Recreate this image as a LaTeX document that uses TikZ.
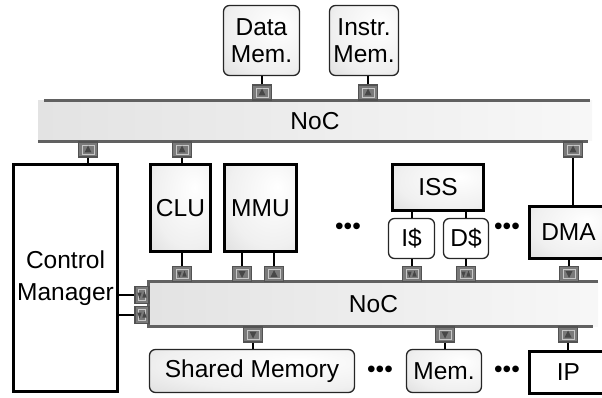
\documentclass[tikz,border=0pt]{standalone}
\usepackage{fontspec}
\setmainfont{Liberation Sans}
\pgfdeclareradialshading{softgray}{\pgfpoint{12bp}{12bp}}{color(0bp)=(white); color(30bp)=(black!6); color(60bp)=(black!20); color(80bp)=(black!30)}
\begin{document}
\begin{tikzpicture}[x=1pt,y=-1pt,
  every node/.style={font=\fontsize{24.5}{27}\selectfont, inner sep=0pt, align=center},
  thickbox/.style={draw=black, line width=3pt, fill=white},
  shbox/.style={draw=black, line width=3pt, shading=softgray},
  rbox/.style={draw=black!85, line width=1.3pt, rounded corners=6pt, shading=softgray},
  wrbox/.style={draw=black!85, line width=1.3pt, rounded corners=6pt, fill=white},
  nocbar/.style={left color=black!11, right color=black!3},
  nocline/.style={draw=black!62, line width=3pt},
  port/.style={draw=black!68, fill=black!52, line width=1.3pt, minimum width=19pt, minimum height=15pt},
  inner/.style={draw=black!22, line width=0.7pt},
  portU/.style={port, path picture={
     \draw[inner] ([shift={(3.5,3)}]path picture bounding box.north west) rectangle ([shift={(-3.5,-3)}]path picture bounding box.south east);
     \fill[black!72] ([shift={(0,-4)}]path picture bounding box.center) -- ++(-3.5,7) -- ++(7,0) -- cycle;}},
  portD/.style={port, path picture={
     \draw[inner] ([shift={(3.5,3)}]path picture bounding box.north west) rectangle ([shift={(-3.5,-3)}]path picture bounding box.south east);
     \fill[black!72] ([shift={(0,4)}]path picture bounding box.center) -- ++(-3.5,-7) -- ++(7,0) -- cycle;}},
  portB/.style={port, path picture={
     \draw[inner] ([shift={(3.5,3)}]path picture bounding box.north west) rectangle ([shift={(-3.5,-3)}]path picture bounding box.south east);
     \fill[black!72] ([shift={(-2.5,3.5)}]path picture bounding box.center) -- ++(-2.2,-6) -- ++(4.4,0) -- cycle;
     \fill[black!72] ([shift={(2.5,-3.5)}]path picture bounding box.center) -- ++(-2.2,6) -- ++(4.4,0) -- cycle;}},
  thickconn/.style={draw=black, line width=2.6pt},
  thinconn/.style={draw=black, line width=1.6pt}
]
\useasboundingbox (0,0) rectangle (602,398);

% memories on top
\node[rbox, minimum width=76pt, minimum height=70pt] (dmem) at (261.5,40.5) {Data\\Mem.};
\node[rbox, minimum width=69pt, minimum height=70pt] (imem) at (364,40.5) {Instr.\\Mem.};

% top NoC
\node[nocbar, minimum width=554pt, minimum height=40pt] (noc1) at (315,121) {NoC};
\draw[nocline] ([xshift=6pt]noc1.north west) -- ([xshift=-2pt]noc1.north east);
\draw[nocline] (noc1.south west) -- ([xshift=-4pt]noc1.south east);

% bottom NoC
\node[nocbar, minimum width=449pt, minimum height=44pt] (noc2) at (373.5,304) {NoC};
\draw[nocline] (noc2.north east) -- (noc2.north west) -- (noc2.south west) -- ([xshift=-5pt]noc2.south east);

% modules
\node[thickbox, minimum width=104pt, minimum height=227pt] (cm) at (65.5,278) {Control\\[5pt]Manager};
\node[shbox, minimum width=60pt, minimum height=87pt] (clu) at (180.5,208) {CLU};
\node[shbox, minimum width=72pt, minimum height=87pt] (mmu) at (260.5,208) {MMU};
\node[shbox, minimum width=91pt, minimum height=46pt] (iss) at (438,187.5) {ISS};
\node[wrbox, minimum width=46pt, minimum height=40pt] (icache) at (411.5,238.5) {I\$};
\node[wrbox, minimum width=45pt, minimum height=40pt] (dcache) at (466,238.5) {D\$};
\node[shbox, minimum width=78pt, minimum height=52pt] (dma) at (568.5,232.5) {DMA};
\node[rbox, minimum width=205pt, minimum height=43pt] (shm) at (252,371) {Shared Memory};
\node[rbox, minimum width=75pt, minimum height=43pt] (mem) at (444,371) {Mem.};
\node[thickbox, minimum width=78pt, minimum height=42pt] (ip) at (568.5,372.5) {IP};

% dots
\node (dots1) at (348,229) {•••};
\node (dots2) at (507,229) {•••};
\node (dots3) at (380,372) {•••};
\node (dots4) at (507,372) {•••};

% ports
\node[portU] (pD) at (262,92.5) {};
\node[portU] (pI) at (368,92.5) {};
\node[portU] (pCM) at (88,149.5) {};
\node[portU] (pCLU) at (182,149.5) {};
\node[portU] (pDMA) at (573,149.5) {};
\node[portB] (qCLU) at (182,274) {};
\node[portD] (qM1) at (242,274) {};
\node[portU] (qM2) at (274,274) {};
\node[portB] (qI) at (412,274) {};
\node[portB] (qD) at (466,274) {};
\node[portD] (qDMA) at (569,274) {};
\node[portD] (rSh) at (253,334.5) {};
\node[portD] (rMem) at (445,334.5) {};
\node[portU] (rIP) at (568,334.5) {};
\node[portB, minimum width=14pt, minimum height=17pt] (lc1) at (142,295) {};
\node[portB, minimum width=14pt, minimum height=17pt] (lc2) at (142,315) {};

% connectors
\draw[thinconn] (pD.north) -- (pD.north |- dmem.south);
\draw[thinconn] (pI.north) -- (pI.north |- imem.south);
\draw[thickconn] (pCM.south) -- (pCM.south |- cm.north);
\draw[thickconn] (pCLU.south) -- (pCLU.south |- clu.north);
\draw[thickconn] (pDMA.south) -- (pDMA.south |- dma.north);
\draw[thickconn] (qCLU.north) -- (qCLU.north |- clu.south);
\draw[thickconn] (qM1.north) -- (qM1.north |- mmu.south);
\draw[thickconn] (qM2.north) -- (qM2.north |- mmu.south);
\draw[thickconn] (qDMA.north) -- (qDMA.north |- dma.south);
\draw[thinconn] (qI.north) -- (qI.north |- icache.south);
\draw[thinconn] (qD.north) -- (qD.north |- dcache.south);
\draw[thinconn] (icache.north -| qI) -- (iss.south -| qI);
\draw[thinconn] (dcache.north -| qD) -- (iss.south -| qD);
\draw[thinconn] (rSh.south) -- (rSh.south |- shm.north);
\draw[thinconn] (rMem.south) -- (rMem.south |- mem.north);
\draw[thinconn] (rIP.south) -- (rIP.south |- ip.north);
\draw[thickconn] (lc1.west) -- (lc1.west -| cm.east);
\draw[thickconn] (lc2.west) -- (lc2.west -| cm.east);
\end{tikzpicture}
\end{document}
